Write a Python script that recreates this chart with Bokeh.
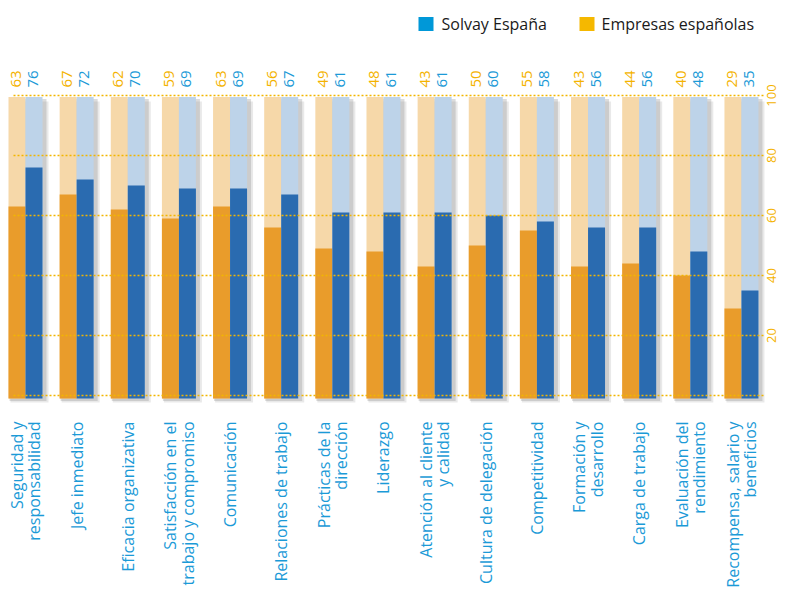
from bokeh.plotting import figure
from bokeh.models import Range1d, ColumnDataSource
from bokeh.core.properties import value
from bokeh.embed import file_html
from bokeh.resources import INLINE

categories = [
    "Seguridad y\nresponsabilidad",
    "Jefe inmediato",
    "Eficacia organizativa",
    "Satisfacción en el\ntrabajo y compromiso",
    "Comunicación",
    "Relaciones de trabajo",
    "Prácticas de la\ndirección",
    "Liderazgo",
    "Atención al cliente\ny calidad",
    "Cultura de delegación",
    "Competitividad",
    "Formación y\ndesarrollo",
    "Carga de trabajo",
    "Evaluación del\nrendimiento",
    "Recompensa, salario y\nbeneficios",
]
empresas = [63, 67, 62, 59, 63, 56, 49, 48, 43, 50, 55, 43, 44, 40, 29]
solvay = [76, 72, 70, 69, 69, 67, 61, 61, 61, 60, 58, 56, 56, 48, 35]
y_ticks = [0, 20, 40, 60, 80, 100]
y_tick_labels = ["", "20", "40", "60", "80", "100"]
legend_labels = ["Solvay España", "Empresas españolas"]

FONT = "Open Sans"
ORANGE_TXT = "#f4b300"
BLUE_TXT = "#1b9ad7"
ORANGE_BAR = "#e99c2b"
BLUE_BAR = "#2a6bb0"
ORANGE_BG = "#f6d8a9"
BLUE_BG = "#bdd3e9"

W, H = 780, 591
PITCH = 51.14          # px between groups
C0 = 25.0              # px centre of first group
ZERO = 395.0           # px of value 0 from top
PXU = 3.0              # px per value unit

x0 = -C0 / PITCH
x1 = x0 + W / PITCH
ytop = ZERO / PXU
ybot = ytop - H / PXU


def X(px):
    return (px - C0) / PITCH


def Y(py):
    return (ZERO - py) / PXU


p = figure(width=W, height=H, output_backend="svg", toolbar_location=None,
           x_range=Range1d(x0, x1), y_range=Range1d(ybot, ytop),
           x_axis_type=None, y_axis_type=None, min_border=0,
           outline_line_color=None, background_fill_color="white")
p.xgrid.visible = False
p.ygrid.visible = False

n = len(categories)
idx = list(range(n))
bw = 17 / PITCH
src = ColumnDataSource(dict(
    x=idx,
    xo=[i - bw / 2 for i in idx],
    xb=[i + bw / 2 for i in idx],
    emp=empresas,
    sol=solvay,
    emp_lbl=[str(v) for v in empresas],
    sol_lbl=[str(v) for v in solvay],
    cat=categories,
))

# shadows
px = 1 / PITCH
p.quad(left=[i - bw + 2 * px for i in idx], right=[i + bw + 6 * px for i in idx],
       top=[98] * n, bottom=[-2.3] * n, fill_color="#9a9a9a", fill_alpha=0.22, line_color=None)
p.quad(left=[i - bw + 1 * px for i in idx], right=[i + bw + 4 * px for i in idx],
       top=[98.8] * n, bottom=[-1.8] * n, fill_color="#8a8a8a", fill_alpha=0.3, line_color=None)

# background bars
p.vbar(x="xo", width=bw, top=99.5, bottom=-1, source=src, fill_color=ORANGE_BG, line_color=None)
p.vbar(x="xb", width=bw, top=99.5, bottom=-1, source=src, fill_color=BLUE_BG, line_color=None)
# value bars
p.vbar(x="xo", width=bw, top="emp", bottom=-1, source=src, fill_color=ORANGE_BAR, line_color=None)
p.vbar(x="xb", width=bw, top="sol", bottom=-1, source=src, fill_color=BLUE_BAR, line_color=None)

# dotted gridlines
p.segment(x0=[X(13)] * len(y_ticks), x1=[X(765)] * len(y_ticks), y0=y_ticks, y1=y_ticks,
          line_color="#f2b600", line_width=1.5, line_dash="2 2")

# right tick labels
p.text(x=[X(771)] * len(y_ticks), y=y_ticks, text=y_tick_labels, angle=1.5708,
       text_font=value(FONT), text_font_size="13px", text_color=ORANGE_TXT,
       text_align="center", text_baseline="middle")

# value labels on top
lab_y = Y(87)
p.text(x="xo", y=lab_y, text="emp_lbl", source=src, angle=1.5708,
       text_font=value(FONT), text_font_size="15px", text_color=ORANGE_TXT,
       text_align="left", text_baseline="middle", x_offset=-1)
p.text(x="xb", y=lab_y, text="sol_lbl", source=src, angle=1.5708,
       text_font=value(FONT), text_font_size="15px", text_color=BLUE_TXT,
       text_align="left", text_baseline="middle", x_offset=-1)

# category labels
p.text(x="x", y=Y(421), text="cat", source=src, angle=1.5708,
       text_font=value(FONT), text_font_size="16px", text_color=BLUE_TXT,
       text_align="right", text_baseline="middle", text_line_height=0.8)

# legend
leg_y = Y(23.5)
p.rect(x=[X(425.5), X(586.5)], y=[leg_y, leg_y],
       width=15, height=14, width_units="screen", height_units="screen",
       fill_color=["#0098d8", "#f5b800"], line_color=None)
p.text(x=[X(441), X(601)], y=[leg_y, leg_y], text=legend_labels,
       text_font=value(FONT), text_font_size="16px", text_color="#1a1a1a",
       text_align="left", text_baseline="middle")

open("out.html", "w").write(file_html(p, INLINE))
